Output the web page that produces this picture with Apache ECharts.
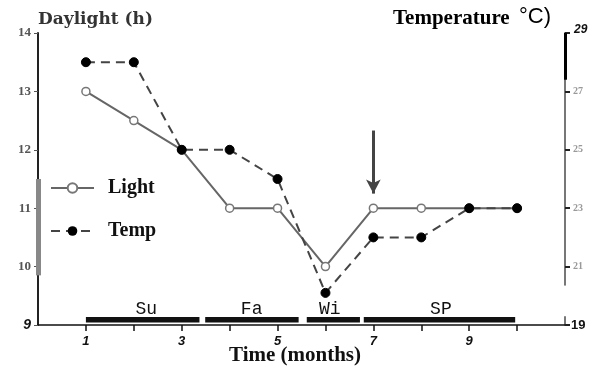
<!DOCTYPE html>
<html><head><meta charset="utf-8">
<script src="https://cdn.jsdelivr.net/npm/echarts@6/dist/echarts.min.js"></script>
<style>html,body{margin:0;padding:0;background:#fff}#c{width:591px;height:373px}</style>
</head><body><div id="c"></div>
<script>
const months = [1,2,3,4,5,6,7,8,9,10];
const lightHours = [13,12.5,12,11,11,10,11,11,11,11];
const tempC = [28,28,25,25,24,20.1,22,22,23,23];
const xLabelValues = [1,3,5,7,9];
const xTickValues = [1,2,3,4,5,6,7,8,9,10];
const seasonNames = ['Su','Fa','Wi','SP'];
const seasonStart = [1.0,3.49,5.61,6.8];
const seasonEnd = [3.37,5.44,6.72,9.96];
const seasonLabelAt = [2.26,4.46,6.09,8.41];
const arrowMonth = 7, arrowFrom = 12.33, arrowTo = 11.25;

const chart = echarts.init(document.getElementById('c'));
const serif = 'Liberation Serif';
chart.setOption({
  animation:false,
  backgroundColor:'#fff',
  grid:{left:38,right:26,top:33,bottom:48},
  legend:{
    orient:'vertical',left:50,top:178,padding:0,itemWidth:43,itemHeight:12,itemGap:23,
    textStyle:{fontFamily:serif,fontWeight:'bold',fontSize:20,color:'#111',padding:[0,0,0,9]},
    data:['Light','Temp']
  },
  graphic:[
    {type:'text',left:38,top:11,style:{text:'Daylight (h)',font:'bold 17px "DejaVu Serif"',fill:'#333'}},
    {type:'text',left:393,top:8,style:{text:'Temperature',font:'bold 21px "Liberation Serif"',fill:'#000'}},
    {type:'text',left:519,top:6,style:{text:'°C)',font:'22px "Liberation Sans"',fill:'#000'}},
    {type:'text',left:229,top:345,style:{text:'Time (months)',font:'bold 21px "Liberation Serif"',fill:'#111'}}
  ],
  xAxis:{
    type:'value',min:0,max:11,interval:1,
    splitLine:{show:false},
    axisLine:{lineStyle:{color:'#111',width:1.5}},
    axisTick:{customValues:xTickValues,length:6,lineStyle:{color:'#111',width:1.5}},
    axisLabel:{customValues:xLabelValues,margin:10,fontFamily:'Liberation Sans',fontWeight:'bold',fontStyle:'italic',fontSize:13,color:'#111'}
  },
  yAxis:[
    {type:'value',min:9,max:14,interval:1,position:'left',splitLine:{show:false},
     axisLine:{show:true,lineStyle:{color:'#222',width:2}},
     axisTick:{show:true,length:4,lineStyle:{color:'#555'}},
     axisLabel:{margin:7,formatter:v=> v===9?'{b|9}':'{s|'+v+'}',
       rich:{b:{fontFamily:'Liberation Sans',fontWeight:'bold',fontStyle:'italic',fontSize:14,color:'#111'},
             s:{fontFamily:serif,fontWeight:'bold',fontSize:13,color:'#555'}}}},
    {type:'value',min:19,max:29,interval:2,position:'right',splitLine:{show:false},
     axisLine:{show:true,lineStyle:{color:'#777',width:2}},
     axisTick:{show:true,length:5,lineStyle:{color:'#222',width:2}},
     axisLabel:{margin:6,formatter:v=> v===29?'{t|29}':(v===19?'{u|19}':'{s|'+v+'}'),
       rich:{t:{fontFamily:'Liberation Sans',fontWeight:'bold',fontStyle:'italic',fontSize:12,color:'#111',padding:[0,0,6,3]},
             u:{fontFamily:'Liberation Sans',fontWeight:'bold',fontSize:13,color:'#111'},
             s:{fontFamily:serif,fontWeight:'bold',fontSize:10,color:'#999',padding:[0,0,0,2]}}}}
  ],
  series:[
    {name:'Light',type:'line',yAxisIndex:0,data:months.map((m,i)=>[m,lightHours[i]]),
     symbol:'circle',symbolSize:8,itemStyle:{color:'#fff',borderColor:'#777',borderWidth:1.5},
     lineStyle:{color:'#666',width:2},z:3,
     markLine:{silent:true,symbol:'none',animation:false,label:{show:false},
       data:[
         [{coord:[0,11.5],lineStyle:{color:'#888',width:5,type:'solid'}},{coord:[0,9.85]}],
         [{coord:[arrowMonth,arrowFrom],symbol:'none',lineStyle:{color:'#444',width:3,type:'solid'}},
          {coord:[arrowMonth,arrowTo],symbol:'arrow',symbolSize:[11,14]}]
       ]}},
    {name:'Temp',type:'line',yAxisIndex:1,data:months.map((m,i)=>[m,tempC[i]]),
     symbol:'circle',symbolSize:9,itemStyle:{color:'#000',borderColor:'#000'},
     lineStyle:{color:'#444',width:2,type:[9,6]},z:4,
     markLine:{silent:true,symbol:'none',animation:false,label:{show:false},
       data:[
         [{coord:[11,29],lineStyle:{color:'#000',width:3,type:'solid'}},{coord:[11,27.4]}],
         [{coord:[11,20.35],lineStyle:{color:'#fff',width:4,type:'solid'}},{coord:[11,19.3]}]
       ]}},
    {type:'custom',xAxisIndex:0,yAxisIndex:0,silent:true,clip:false,z:5,
     data:seasonNames.map((n,i)=>[seasonStart[i],seasonEnd[i],seasonLabelAt[i]]),
     renderItem:function(params,api){
       const p0=api.coord([api.value(0),9]);
       const p1=api.coord([api.value(1),9]);
       const pc=api.coord([api.value(2),9]);
       return {type:'group',children:[
         {type:'rect',shape:{x:p0[0],y:p0[1]-8,width:p1[0]-p0[0],height:5.5},style:{fill:'#111'}},
         {type:'text',style:{text:seasonNames[params.dataIndex],x:pc[0],y:p0[1]-7,align:'center',verticalAlign:'bottom',
           font:'18px "Liberation Mono"',fill:'#111'}}
       ]};
     }}
  ]
});
</script></body></html>
